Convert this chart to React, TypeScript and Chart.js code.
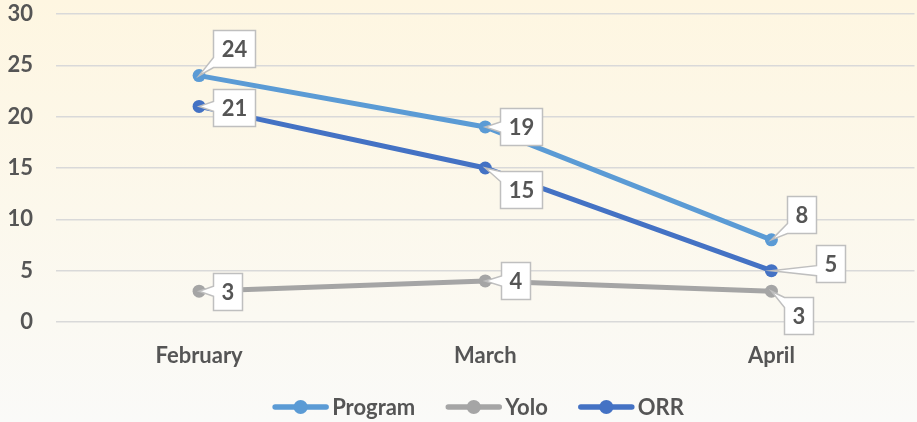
import React, { useEffect, useRef } from "react";
import { Chart, registerables } from "chart.js";

Chart.register(...registerables);

const categories = ["February", "March", "April"];
const programValues = [24, 19, 8];
const yoloValues = [3, 4, 3];
const orrValues = [21, 15, 5];
const seriesNames = ["Program", "Yolo", "ORR"];
const seriesColors = ["#5B9BD5", "#A5A5A5", "#4472C4"];
const yTicks = [0, 5, 10, 15, 20, 25, 30];

// callout label placement relative to each point (pixels), per series
const labelOffsets = [
  [[35, -27], [36, 0], [30, -25]],
  [[28, 0], [30, 0], [27, 24]],
  [[35, 1], [36, 21], [59, -7]],
];

const FONT = "Lato, 'Open Sans', sans-serif";
const TEXT = "#555555";

const calloutPlugin = {
  id: "callouts",
  afterDatasetsDraw(chart: any) {
    const ctx = chart.ctx;
    ctx.save();
    ctx.font = `bold 22px ${FONT}`;
    chart.data.datasets.forEach((ds: any, di: number) => {
      const meta = chart.getDatasetMeta(di);
      meta.data.forEach((pt: any, i: number) => {
        const px = pt.x;
        const py = pt.y;
        const [ox, oy] = labelOffsets[di][i];
        const cx = px + ox;
        const cy = py + oy;
        const text = String(ds.data[i]);
        const tw = ctx.measureText(text).width;
        const w = Math.round(tw + 16);
        const h = 37;
        const l = Math.round(cx - w / 2) + 0.5;
        const t = Math.round(cy - h / 2) + 0.5;
        const r = l + w;
        const b = t + h;
        const hw = 5;
        ctx.beginPath();
        if (px < l) {
          const c = Math.min(Math.max(py, t + hw), b - hw);
          ctx.moveTo(l, t);
          ctx.lineTo(r, t);
          ctx.lineTo(r, b);
          ctx.lineTo(l, b);
          ctx.lineTo(l, c + hw);
          ctx.lineTo(px, py);
          ctx.lineTo(l, c - hw);
          ctx.closePath();
        } else if (px > r) {
          const c = Math.min(Math.max(py, t + hw), b - hw);
          ctx.moveTo(l, t);
          ctx.lineTo(r, t);
          ctx.lineTo(r, c - hw);
          ctx.lineTo(px, py);
          ctx.lineTo(r, c + hw);
          ctx.lineTo(r, b);
          ctx.lineTo(l, b);
          ctx.closePath();
        } else if (py < t) {
          const c = Math.min(Math.max(px, l + hw), r - hw);
          ctx.moveTo(l, t);
          ctx.lineTo(c - hw, t);
          ctx.lineTo(px, py);
          ctx.lineTo(c + hw, t);
          ctx.lineTo(r, t);
          ctx.lineTo(r, b);
          ctx.lineTo(l, b);
          ctx.closePath();
        } else if (py > b) {
          const c = Math.min(Math.max(px, l + hw), r - hw);
          ctx.moveTo(l, t);
          ctx.lineTo(r, t);
          ctx.lineTo(r, b);
          ctx.lineTo(c + hw, b);
          ctx.lineTo(px, py);
          ctx.lineTo(c - hw, b);
          ctx.lineTo(l, b);
          ctx.closePath();
        } else {
          ctx.rect(l, t, w, h);
        }
        ctx.fillStyle = "#FFFFFF";
        ctx.fill();
        ctx.strokeStyle = "#BFBFBF";
        ctx.lineWidth = 1.5;
        ctx.stroke();
        ctx.fillStyle = TEXT;
        ctx.textAlign = "center";
        ctx.textBaseline = "middle";
        ctx.fillText(text, l + w / 2, t + h / 2 + 1);
      });
    });
    ctx.restore();
  },
};

const legendPlugin = {
  id: "customLegend",
  afterDraw(chart: any) {
    const ctx = chart.ctx;
    ctx.save();
    ctx.font = `bold 22px ${FONT}`;
    const lineW = 57;
    const gap = 3;
    const itemGap = 30;
    const names = chart.data.datasets.map((d: any) => d.label);
    const widths = names.map((n: string) => lineW + gap + ctx.measureText(n).width);
    const total = widths.reduce((a: number, b: number) => a + b, 0) + itemGap * (names.length - 1);
    let x = 478 - total / 2;
    const y = 407;
    names.forEach((n: string, i: number) => {
      const color = chart.data.datasets[i].borderColor;
      ctx.strokeStyle = color;
      ctx.lineWidth = 5.5;
      ctx.lineCap = "round";
      ctx.beginPath();
      ctx.moveTo(x + 3, y);
      ctx.lineTo(x + lineW - 3, y);
      ctx.stroke();
      ctx.fillStyle = color;
      ctx.beginPath();
      ctx.arc(x + lineW / 2, y, 7, 0, Math.PI * 2);
      ctx.fill();
      ctx.fillStyle = TEXT;
      ctx.textAlign = "left";
      ctx.textBaseline = "middle";
      ctx.fillText(n, x + lineW + gap, y + 1);
      x += widths[i] + itemGap;
    });
    ctx.restore();
  },
};

export default function App() {
  const ref = useRef<HTMLCanvasElement | null>(null);
  useEffect(() => {
    document.body.style.margin = "0";
    const canvas = ref.current;
    if (!canvas) return;
    const seriesData = [programValues, yoloValues, orrValues];
    const chart = new Chart(canvas, {
      type: "line",
      data: {
        labels: categories,
        datasets: seriesData.map((vals, i) => ({
          label: seriesNames[i],
          data: vals,
          borderColor: seriesColors[i],
          backgroundColor: seriesColors[i],
          pointBackgroundColor: seriesColors[i],
          pointBorderColor: seriesColors[i],
          borderWidth: 5,
          pointRadius: 6.5,
          pointBorderWidth: 0,
          tension: 0,
          fill: false,
          order: 3 - i,
        })),
      },
      options: {
        responsive: false,
        animation: false,
        maintainAspectRatio: false,
        layout: { padding: { top: 14, right: 0, bottom: 0, left: 0 } },
        plugins: {
          legend: { display: false },
          tooltip: { enabled: false },
        },
        scales: {
          x: {
            type: "category",
            offset: true,
            grid: { display: false, drawTicks: false },
            border: { display: false },
            ticks: {
              color: TEXT,
              font: { family: FONT, size: 22, weight: "bold" },
              padding: 21,
            },
            afterFit(scale: any) {
              scale.height = 100;
              scale.paddingLeft = 0;
              scale.paddingRight = 0;
            },
          },
          y: {
            min: 0,
            max: 30,
            afterBuildTicks(scale: any) {
              scale.ticks = yTicks.map((v) => ({ value: v }));
            },
            grid: { color: "#D9D9D9", lineWidth: 1.5, drawTicks: false },
            border: { display: false },
            ticks: {
              color: TEXT,
              font: { family: FONT, size: 22, weight: "bold" },
              padding: 23,
            },
            afterFit(scale: any) {
              scale.width = 56;
              scale.paddingTop = 0;
              scale.paddingBottom = 0;
            },
          },
        },
      },
      plugins: [calloutPlugin, legendPlugin],
    });
    return () => chart.destroy();
  }, []);
  return (
    <div
      style={{
        width: 917,
        height: 422,
        overflow: "hidden",
        background: "linear-gradient(to bottom, #FEF6E1 0%, #FCF8EC 50%, #FAFAF8 100%)",
      }}
    >
      <canvas ref={ref} width={921} height={422} style={{ display: "block" }} />
    </div>
  );
}
